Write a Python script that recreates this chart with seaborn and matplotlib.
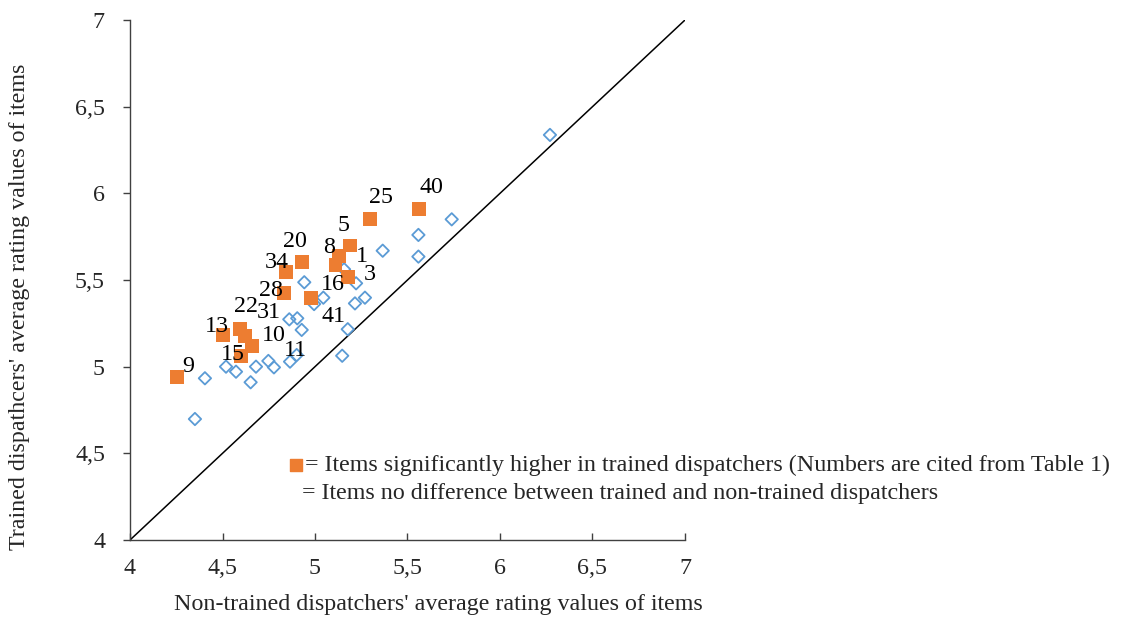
import matplotlib
matplotlib.use("Agg")
import matplotlib.pyplot as plt
import seaborn as sns
import pandas as pd
import numpy as np
from matplotlib.ticker import FuncFormatter

# ---- data ----
# Items significantly higher in trained dispatchers (orange squares)
sig_x = [4.256, 4.504, 4.595, 4.622, 4.658, 4.598, 4.928, 4.842, 4.832, 4.977,
         5.189, 5.131, 5.111, 5.177, 5.297, 5.562]
sig_y = [4.939, 5.183, 5.216, 5.177, 5.121, 5.062, 5.606, 5.548, 5.427, 5.394,
         5.699, 5.641, 5.587, 5.517, 5.850, 5.910]

# Items with no difference (blue hollow diamonds)
nd_x = [4.405, 4.519, 4.573, 4.652, 4.681, 4.748, 4.778, 4.865, 4.901, 4.861,
        4.904, 4.928, 4.942, 4.995, 5.045, 5.157, 5.222, 5.216, 5.270, 5.177,
        5.147, 5.366, 5.559, 5.559, 5.739, 6.270, 4.351]
nd_y = [4.933, 5.000, 4.971, 4.910, 5.000, 5.033, 4.996, 5.029, 5.067, 5.273,
        5.279, 5.212, 5.487, 5.361, 5.398, 5.562, 5.481, 5.365, 5.398, 5.216,
        5.063, 5.669, 5.760, 5.635, 5.850, 6.337, 4.698]

# Item number labels (from Table 1) and where they sit
label_text = ["9", "13", "22", "31", "10", "15", "11", "28", "34", "20",
              "16", "41", "8", "1", "5", "3", "25", "40"]
label_x = [4.315, 4.469, 4.627, 4.748, 4.778, 4.555, 4.892, 4.761, 4.793, 4.892,
           5.094, 5.099, 5.077, 5.252, 5.155, 5.297, 5.357, 5.627]
label_y = [5.000, 5.231, 5.346, 5.315, 5.177, 5.073, 5.096, 5.442, 5.600, 5.721,
           5.473, 5.288, 5.687, 5.635, 5.817, 5.533, 5.977, 6.035]

ticks = [4, 4.5, 5, 5.5, 6, 6.5, 7]

x_label = "Non-trained dispatchers' average rating values of items"
y_label = "Trained dispathcers' average rating values of items"
legend_sig = "= Items significantly higher in trained dispatchers (Numbers are cited from Table 1)"
legend_nd = "= Items no difference between trained and non-trained dispatchers"

ORANGE = "#ED7D31"
BLUE = "#5B9BD5"
FS = 17.3

# ---- plot ----
sns.set_style("white")
plt.rcParams["font.family"] = ["Liberation Serif", "DejaVu Serif"]
plt.rcParams["font.size"] = FS

fig = plt.figure(figsize=(11.26, 6.18), dpi=100)
ax = fig.add_axes([130 / 1126, 1 - 540 / 618, 555 / 1126, 520 / 618])

df_nd = pd.DataFrame({"x": nd_x, "y": nd_y})
df_sig = pd.DataFrame({"x": sig_x, "y": sig_y})

# diagonal reference line y = x
ax.plot([ticks[0], ticks[-1]], [ticks[0], ticks[-1]], color="black", lw=1.1, zorder=1)

sns.scatterplot(data=df_nd, x="x", y="y", ax=ax, marker="D", s=40,
                facecolor="none", edgecolor=BLUE, linewidth=1.3, zorder=2)
sns.scatterplot(data=df_sig, x="x", y="y", ax=ax, marker="s", s=100,
                color=ORANGE, edgecolor="none", linewidth=0, zorder=3)

for t, lx, ly in zip(label_text, label_x, label_y):
    ax.text(lx, ly, t, ha="center", va="center", fontsize=FS, color="black", zorder=4)

ax.set_xlim(ticks[0], ticks[-1])
ax.set_ylim(ticks[0], ticks[-1])
ax.set_xticks(ticks)
ax.set_yticks(ticks)
fmt = FuncFormatter(lambda v, p: (f"{v:g}").replace(".", ","))
ax.xaxis.set_major_formatter(fmt)
ax.yaxis.set_major_formatter(fmt)

for s in ["top", "right"]:
    ax.spines[s].set_visible(False)
for s in ["left", "bottom"]:
    ax.spines[s].set_color("#404040")
    ax.spines[s].set_linewidth(1.0)

ax.tick_params(axis="x", direction="in", length=5, width=1, color="#404040",
               labelsize=FS, pad=13)
ax.tick_params(axis="y", direction="out", length=5, width=1, color="#404040",
               labelsize=FS, pad=13)
ax.tick_params(left=True, bottom=True)

ax.set_xlabel(x_label, fontsize=FS)
ax.set_ylabel(y_label, fontsize=FS)
ax.xaxis.set_label_coords((438 - 130) / 555, -(594 - 540) / 520)
ax.yaxis.set_label_coords(-(130 - 30) / 555, (540 - 307) / 520)

# legend-like annotation
ax.scatter([(296 - 130) / 555], [(540 - 465) / 520], transform=ax.transAxes,
           marker="s", s=70, color=ORANGE, clip_on=False, zorder=5)
ax.text((305 - 130) / 555, (540 - 465) / 520, legend_sig, transform=ax.transAxes,
        ha="left", va="center", fontsize=FS, clip_on=False)
ax.text((302 - 130) / 555, (540 - 493) / 520, legend_nd, transform=ax.transAxes,
        ha="left", va="center", fontsize=FS, clip_on=False)

fig.savefig("out.png", dpi=100)
